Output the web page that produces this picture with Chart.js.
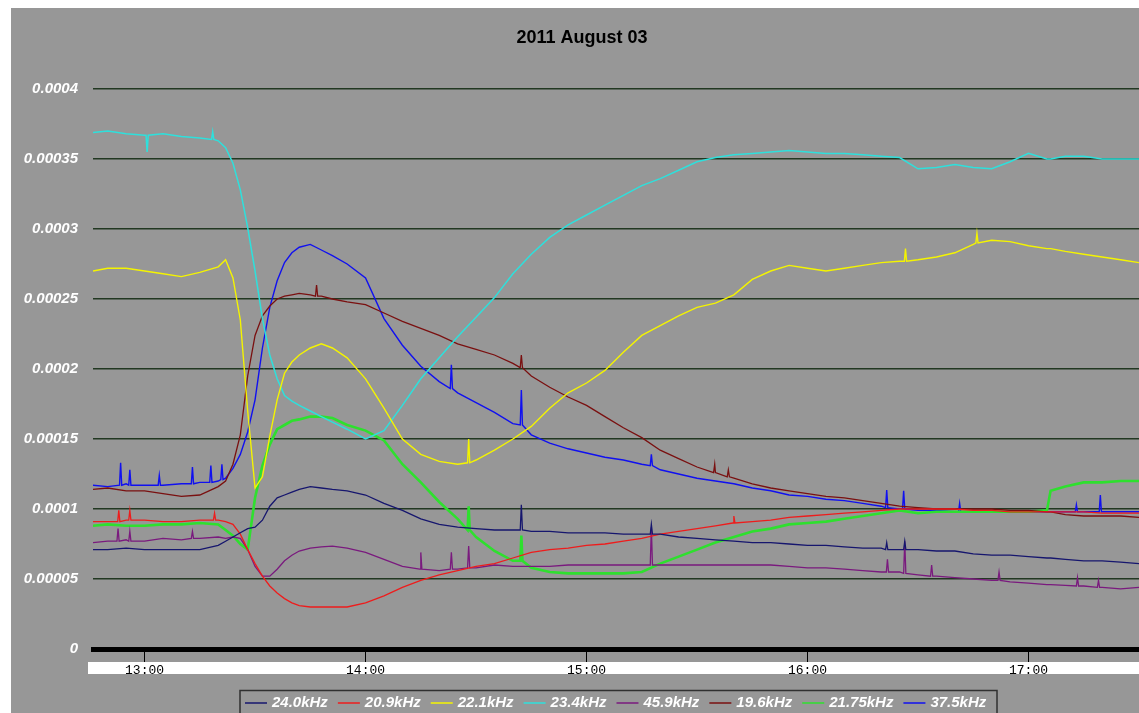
<!DOCTYPE html>
<html>
<head>
<meta charset="utf-8">
<title>2011 August 03</title>
<script src="https://cdn.jsdelivr.net/npm/chart.js@4.4.0/dist/chart.umd.min.js"></script>
<style>
  html, body { margin: 0; padding: 0; background: #fff; }
  #wrap { width: 1139px; height: 713px; }
</style>
</head>
<body>
<div id="wrap"><canvas id="vlf" width="1139" height="713"></canvas></div>
<script>
// VLF receiver amplitudes, 2011 August 03 (values in units of 1e-5)
const TITLE = '2011 August 03';

// minutes after midnight
const times = [766, 770, 775, 780, 785, 790, 795, 800,
  802, 804, 806, 808, 810, 812, 814, 816, 818, 820, 822,
  825, 828, 831, 835,
  840, 845, 850, 855, 860, 865, 870, 875, 880, 885, 890, 895, 900,
  905, 910, 915, 920, 925, 930, 935, 940, 945, 950, 955, 960,
  965, 970, 975, 980, 985, 990, 995, 1000, 1005, 1010, 1015, 1020, 1025,
  1026, 1030, 1035, 1040, 1045, 1050];

const hourTicks = [780, 840, 900, 960, 1020];
const yTicks = [0, 5, 10, 15, 20, 25, 30, 35, 40];

const f24_0 = [7.1, 7.1, 7.2, 7.1, 7.1, 7.1, 7.1, 7.4,
  7.7, 8.0, 8.3, 8.6, 8.7, 9.2, 10.2, 10.8, 11.0, 11.2, 11.4,
  11.6, 11.5, 11.4, 11.3,
  11.0, 10.4, 9.9, 9.3, 8.9, 8.7, 8.6, 8.5, 8.5, 8.4, 8.4, 8.3, 8.3,
  8.3, 8.2, 8.2, 8.2, 8.0, 7.9, 7.8, 7.7, 7.6, 7.6, 7.5, 7.4,
  7.4, 7.3, 7.2, 7.2, 7.1, 7.1, 7.0, 7.0, 6.8, 6.7, 6.7, 6.6, 6.5,
  6.5, 6.4, 6.3, 6.3, 6.2, 6.1];

const f20_9 = [9.1, 9.1, 9.2, 9.2, 9.1, 9.1, 9.2, 9.2,
  9.1, 8.9, 8.2, 7.1, 6.1, 5.2, 4.5, 4.0, 3.6, 3.3, 3.1,
  3.0, 3.0, 3.0, 3.0,
  3.3, 3.8, 4.4, 4.9, 5.3, 5.6, 5.9, 6.1, 6.5, 6.9, 7.1, 7.2, 7.4,
  7.5, 7.7, 7.9, 8.2, 8.4, 8.6, 8.8, 9.0, 9.1, 9.2, 9.4, 9.5,
  9.6, 9.7, 9.8, 9.9, 10.0, 10.0, 10.0, 10.0, 9.9, 9.9, 9.8, 9.8, 9.8,
  9.8, 9.8, 9.8, 9.7, 9.7, 9.7];

const f22_1 = [27.0, 27.2, 27.2, 27.0, 26.8, 26.6, 26.9, 27.3,
  27.8, 26.5, 23.5, 17.0, 11.5, 12.3, 15.2, 17.8, 19.7, 20.5, 21.0,
  21.5, 21.8, 21.5, 20.8,
  19.3, 17.2, 15.0, 13.9, 13.4, 13.2, 13.5, 14.2, 15.0, 15.9, 17.2, 18.3, 19.0,
  19.9, 21.2, 22.4, 23.1, 23.8, 24.4, 24.7, 25.3, 26.4, 27.0, 27.4, 27.2,
  27.0, 27.2, 27.4, 27.6, 27.7, 27.8, 28.0, 28.3, 28.9, 29.2, 29.1, 28.8, 28.6,
  28.6, 28.4, 28.2, 28.0, 27.8, 27.6];

const f23_4 = [36.9, 37.0, 36.8, 36.7, 36.8, 36.6, 36.5, 36.3,
  35.8, 34.7, 32.8, 30.1, 27.0, 23.6, 21.0, 19.3, 18.1, 17.7, 17.4,
  17.0, 16.6, 16.2, 15.7,
  15.0, 15.6, 17.4, 19.3, 20.8, 22.3, 23.7, 25.1, 26.8, 28.2, 29.4, 30.3, 31.0,
  31.7, 32.4, 33.1, 33.6, 34.2, 34.8, 35.1, 35.3, 35.4, 35.5, 35.6, 35.5,
  35.4, 35.4, 35.3, 35.2, 35.1, 34.3, 34.4, 34.6, 34.4, 34.3, 34.8, 35.4, 35.0,
  35.0, 35.2, 35.2, 35.0, 35.0, 35.0];

const f45_9 = [7.6, 7.7, 7.8, 7.7, 7.9, 7.8, 7.9, 8.0,
  7.9, 8.0, 7.9, 7.1, 5.9, 5.2, 5.2, 5.7, 6.3, 6.7, 7.0,
  7.2, 7.3, 7.35, 7.2,
  6.9, 6.4, 5.9, 5.7, 5.6, 5.7, 5.8, 6.0, 5.9, 5.9, 5.9, 6.0, 6.0,
  6.0, 6.0, 6.0, 6.0, 6.0, 6.0, 6.0, 6.0, 6.0, 6.0, 5.9, 5.8,
  5.8, 5.7, 5.6, 5.5, 5.5, 5.3, 5.2, 5.1, 5.0, 4.9, 4.8, 4.7, 4.6,
  4.6, 4.55, 4.5, 4.4, 4.3, 4.4];

const f19_6 = [11.4, 11.5, 11.3, 11.3, 11.1, 10.9, 11.0, 11.6,
  12.0, 13.2, 15.3, 19.5, 22.4, 23.8, 24.5, 25.0, 25.2, 25.3, 25.4,
  25.3, 25.2, 25.0, 24.8,
  24.6, 24.0, 23.4, 22.9, 22.4, 21.8, 21.4, 21.0, 20.4, 19.5, 18.7, 18.0, 17.4,
  16.6, 15.8, 15.1, 14.2, 13.6, 13.0, 12.6, 12.2, 11.8, 11.5, 11.3, 11.1,
  10.9, 10.8, 10.6, 10.4, 10.2, 10.1, 10.0, 10.0, 10.0, 10.0, 9.9, 9.9, 9.8,
  9.8, 9.6, 9.5, 9.5, 9.5, 9.4];

const f21_75 = [8.8, 8.9, 8.8, 8.8, 8.9, 8.9, 9.0, 8.9,
  8.5, 8.1, 7.5, 7.1, 10.8, 13.1, 14.6, 15.7, 16.0, 16.3, 16.4,
  16.6, 16.6, 16.5, 16.0,
  15.6, 14.9, 13.2, 11.9, 10.5, 9.3, 8.0, 7.0, 6.3, 5.8, 5.5, 5.4, 5.4,
  5.4, 5.4, 5.5, 6.1, 6.6, 7.1, 7.6, 8.0, 8.4, 8.6, 8.9, 9.0,
  9.1, 9.3, 9.5, 9.7, 9.9, 9.7, 9.8, 9.8, 9.8, 9.8, 9.8, 9.8, 9.9,
  11.3, 11.6, 11.9, 11.9, 12.0, 12.0];

const f37_5 = [11.7, 11.6, 11.8, 11.7, 11.7, 11.8, 11.9, 12.0,
  12.2, 12.9, 13.9, 15.5, 17.8, 21.5, 24.4, 26.3, 27.6, 28.3, 28.7,
  28.9, 28.5, 28.1, 27.5,
  26.5, 23.6, 21.7, 20.2, 19.1, 18.3, 17.6, 16.9, 16.1, 15.3, 14.7, 14.3, 14.0,
  13.7, 13.5, 13.2, 12.8, 12.5, 12.2, 12.0, 11.8, 11.5, 11.3, 11.0, 10.9,
  10.7, 10.6, 10.4, 10.2, 10.0, 9.9, 9.9, 9.8, 9.8, 9.8, 9.8, 9.8, 9.8,
  9.8, 9.8, 9.8, 9.8, 9.8, 9.8];

// short spikes: [time, level, peak]
const s24_0 = [[882.3, 8.5, 10.3], [917.6, 8.2, 8.9], [981.5, 7.1, 7.6], [986.4, 7.1, 7.7]];
const s20_9 = [[773, 9.1, 9.9], [776, 9.2, 9.9], [799, 9.2, 9.7], [940, 9.0, 9.5]];
const s22_1 = [[868, 13.3, 15.0], [986.6, 27.7, 28.6], [1006, 29.0, 29.7]];
const s23_4 = [[780.7, 36.7, 35.5], [798.5, 36.4, 36.95]];
const s45_9 = [[772.8, 7.7, 8.6], [776, 7.7, 8.4], [793, 7.9, 8.4], [855, 5.7, 6.9], [863.3, 5.7, 6.9],
  [868, 5.8, 7.35], [917.6, 6.0, 8.7], [981.7, 5.5, 6.4], [986.4, 5.4, 7.7], [993.7, 5.2, 6.0],
  [1012, 4.9, 5.5], [1033.3, 4.5, 5.1], [1039, 4.4, 4.9]];
const s19_6 = [[826.7, 25.2, 26.0], [882.3, 20.1, 21.0], [934.8, 12.6, 13.2], [938.5, 12.3, 12.8]];
const s21_75 = [[868, 8.5, 10.2], [882.3, 6.3, 8.1]];
const s37_5 = [[773.5, 11.7, 13.3], [776, 11.7, 12.8], [784, 11.7, 12.4], [793, 11.8, 13.0], [798, 11.9, 13.1],
  [801, 12.1, 13.2], [863.3, 18.6, 20.3], [882.3, 16.0, 18.5], [917.6, 13.1, 13.9], [981.5, 10.1, 11.35],
  [986.1, 10.0, 11.3], [1001.3, 9.8, 10.4], [1033, 9.8, 10.3], [1039.5, 9.8, 11.0]];

const seriesNames = ['24.0kHz', '20.9kHz', '22.1kHz', '23.4kHz', '45.9kHz', '19.6kHz', '21.75kHz', '37.5kHz'];
const seriesValues = [f24_0, f20_9, f22_1, f23_4, f45_9, f19_6, f21_75, f37_5];
const seriesSpikes = [s24_0, s20_9, s22_1, s23_4, s45_9, s19_6, s21_75, s37_5];
const seriesColors = ['#16166e', '#ee1c1c', '#f4f400', '#2ee0dc', '#7a1a7e', '#7a1010', '#2ee02e', '#1010f0'];
const seriesWidths = [1.3, 1.3, 1.4, 1.5, 1.3, 1.3, 2.6, 1.4];

const SCALE = 1e-5;

function buildPoints(vals, spikes) {
    let pts = times.map(function (t, j) { return { x: t, y: vals[j] * SCALE }; });
    spikes.forEach(function (s) {
        pts.push({ x: s[0] - 0.3, y: s[1] * SCALE });
        pts.push({ x: s[0], y: s[2] * SCALE });
        pts.push({ x: s[0] + 0.3, y: s[1] * SCALE });
    });
    pts.sort(function (a, b) { return a.x - b.x; });
    return pts;
}

const datasets = seriesNames.map(function (name, i) {
    return {
        label: name,
        data: buildPoints(seriesValues[i], seriesSpikes[i]),
        borderColor: seriesColors[i],
        backgroundColor: seriesColors[i],
        borderWidth: seriesWidths[i],
        pointRadius: 0,
        tension: 0,
        fill: false
    };
});

// gray panel, title and white strip under the time axis
const backdrop = {
    id: 'backdrop',
    beforeDraw: function (chart) {
        const ctx = chart.ctx;
        ctx.save();
        ctx.fillStyle = '#ffffff';
        ctx.fillRect(0, 0, chart.width, chart.height);
        ctx.fillStyle = '#979797';
        ctx.fillRect(11, 8, chart.width - 11, chart.height - 8);
        ctx.fillStyle = '#ffffff';
        ctx.fillRect(88, 662, chart.width - 88, 12);
        ctx.fillStyle = '#000000';
        ctx.font = 'bold 18px "Liberation Sans", Arial, sans-serif';
        ctx.textAlign = 'center';
        ctx.textBaseline = 'middle';
        ctx.fillText(TITLE, 582, 38);
        ctx.restore();
    }
};

// boxed legend at the bottom
const boxLegend = {
    id: 'boxLegend',
    afterDraw: function (chart) {
        const ctx = chart.ctx;
        ctx.save();
        ctx.strokeStyle = '#303030';
        ctx.lineWidth = 1.5;
        ctx.strokeRect(240, 690.5, 757, 40);
        ctx.font = 'italic bold 15px "Liberation Sans", Arial, sans-serif';
        ctx.textBaseline = 'middle';
        ctx.textAlign = 'left';
        let x = 245;
        const y = 703;
        seriesNames.forEach(function (name, i) {
            ctx.strokeStyle = seriesColors[i];
            ctx.lineWidth = 1.5;
            ctx.beginPath();
            ctx.moveTo(x, y);
            ctx.lineTo(x + 22, y);
            ctx.stroke();
            ctx.fillStyle = '#ffffff';
            ctx.fillText(name, x + 27, y);
            x += 27 + ctx.measureText(name).width + 10;
        });
        ctx.restore();
    }
};

new Chart(document.getElementById('vlf').getContext('2d'), {
    type: 'line',
    data: { datasets: datasets },
    plugins: [backdrop, boxLegend],
    options: {
        responsive: false,
        animation: false,
        devicePixelRatio: 1,
        layout: { padding: { top: 89, left: 0, right: 0, bottom: 0 } },
        plugins: {
            legend: { display: false },
            title: { display: false },
            tooltip: { enabled: false }
        },
        scales: {
            x: {
                type: 'linear',
                min: 766,
                max: 1050,
                afterFit: function (scale) { scale.height = 64; },
                afterBuildTicks: function (scale) {
                    scale.ticks = hourTicks.map(function (v) { return { value: v }; });
                },
                border: { display: true, color: '#000000', width: 5 },
                grid: { drawOnChartArea: false, drawTicks: true, tickLength: 13, color: '#000000', lineWidth: 1 },
                ticks: {
                    autoSkip: false,
                    maxRotation: 0,
                    padding: 1,
                    color: '#000000',
                    font: { family: '"Liberation Mono", "DejaVu Sans Mono", monospace', size: 13 },
                    callback: function (v) {
                        return String(Math.floor(v / 60)).padStart(2, '0') + ':' + String(v % 60).padStart(2, '0');
                    }
                }
            },
            y: {
                min: 0,
                max: 40 * SCALE,
                afterFit: function (scale) { scale.width = 93; },
                afterBuildTicks: function (scale) {
                    scale.ticks = yTicks.map(function (v) { return { value: v * SCALE }; });
                },
                border: { display: false },
                grid: {
                    drawTicks: false,
                    lineWidth: 1.5,
                    color: function (c) { return c.tick && c.tick.value === 0 ? 'rgba(0,0,0,0)' : '#223822'; }
                },
                ticks: {
                    padding: 15,
                    color: '#ffffff',
                    font: { family: '"Liberation Sans", Arial, sans-serif', size: 15, weight: 'bold', style: 'italic' },
                    callback: function (v) {
                        if (v === 0) return '0';
                        return v.toFixed(5).replace(/0+$/, '');
                    }
                }
            }
        }
    }
});
</script>
</body>
</html>
